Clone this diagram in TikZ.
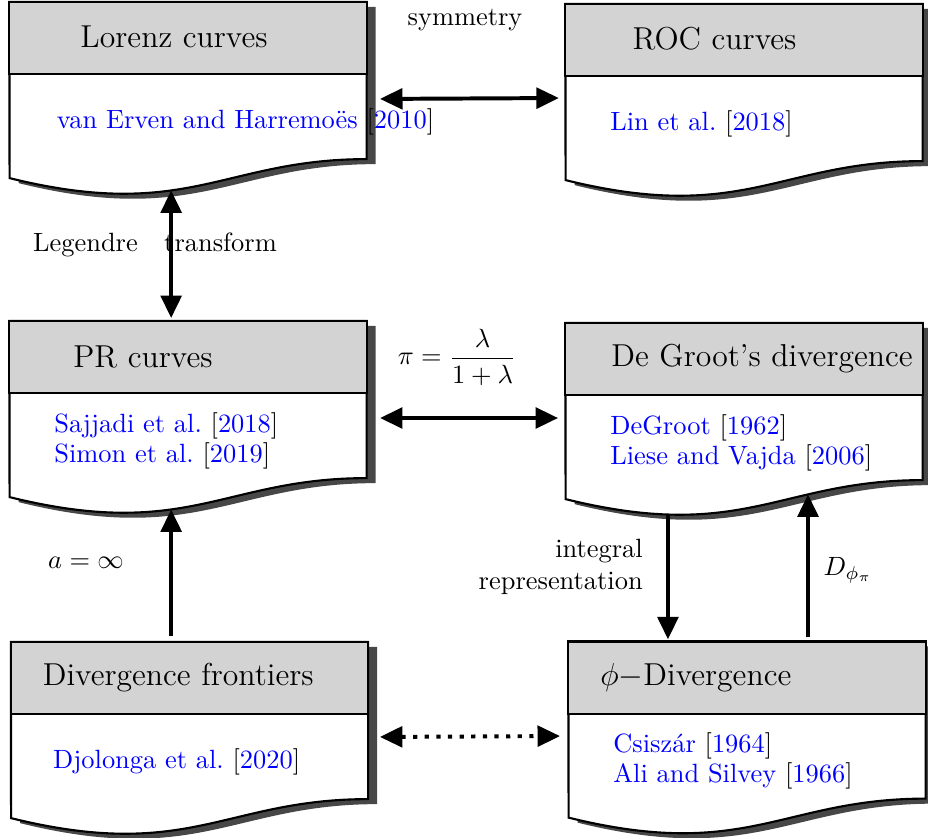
\documentclass[tikz,border=0pt]{standalone}
\usepackage{amsmath}
\usepackage{fontspec}
\usetikzlibrary{positioning,arrows.meta,shadows,backgrounds}
\definecolor{headgray}{RGB}{211,211,211}
\newcommand{\litref}[2]{\textcolor{blue}{#1}\ [\textcolor{blue}{#2}]}

\begin{document}
\begin{tikzpicture}[x=0.01331cm,y=-0.01331cm,
	>={Triangle[length=8.5pt,width=7.8pt]},
	head/.style={draw,thick,fill=headgray,minimum width=135.2pt,minimum height=27.3pt,text width=135.2pt,inner xsep=0pt,outer sep=0pt,align=left,font=\large},
	body/.style={minimum width=135.2pt,minimum height=32.2pt,inner xsep=17pt,text width=101.2pt,outer sep=0pt,align=left,execute at begin node={\rule{0pt}{11.3pt}}},
	docbox/.style={draw,thick,fill=white,drop shadow={shadow xshift=3.4pt,shadow yshift=-1.9pt,fill=black!72,opacity=1}},
	link/.style={line width=1.5pt}]
	\useasboundingbox (0,0) rectangle (928,837);

	\node[head] (lor) at (188,38) {\raisebox{1pt}{\hspace*{26.9pt}Lorenz curves}};
	\node[body,below=0pt of lor] (lorb) {\mbox{\hspace*{1pt}\litref{van Erven and Harremoës}{2010}}};
	\node[head] (roc) at (744,40) {\raisebox{1pt}{\hspace*{25.4pt}ROC curves}};
	\node[body,below=0pt of roc] (rocb) {\litref{Lin et al.}{2018}};
	\node[head] (pr) at (188,357) {\hspace*{24.2pt}PR curves};
	\node[body,below=0pt of pr] (prb) {\litref{Sajjadi et al.}{2018}\\[-0.6pt] \litref{Simon et al.}{2019}};
	\node[head] (dg) at (744,359) {\hspace*{17.4pt}De Groot's divergence};
	\node[body,below=0pt of dg] (dgb) {\litref{DeGroot}{1962}\\[-0.6pt] \litref{Liese and Vajda}{2006}};
	\node[head] (df) at (189.5,678) {\hspace*{12.1pt}Divergence frontiers};
	\node[body,below=0pt of df] (dfb) {\hspace*{-1pt}\litref{Djolonga et al.}{2020}};
	\node[head] (phi) at (747,677.5) {\hspace*{12.1pt}$\phi-$Divergence};
	\node[body,below=0pt of phi] (phib) {\litref{Csiszár}{1964}\\[-0.6pt] \litref{Ali and Silvey}{1966}};

	\begin{scope}[on background layer]
		\path[docbox] (lor.north west) -- (lor.north east) -- (lorb.south east) .. controls +(-143,0) and +(178.5,44) .. ++(-357,19) coordinate[pos=.6] (lorw) -- cycle;
		\path[docbox] (roc.north west) -- (roc.north east) -- (rocb.south east) .. controls +(-143,0) and +(178.5,44) .. ++(-357,19) -- cycle;
		\path[docbox] (pr.north west) -- (pr.north east) -- (prb.south east) .. controls +(-143,0) and +(178.5,44) .. ++(-357,19) coordinate[pos=.6] (prw) -- cycle;
		\path[docbox] (dg.north west) -- (dg.north east) -- (dgb.south east) .. controls +(-143,0) and +(178.5,44) .. ++(-357,19) coordinate[pos=.773] (dgw1) coordinate[pos=.327] (dgw2) -- cycle;
		\path[docbox] (df.north west) -- (df.north east) -- (dfb.south east) .. controls +(-143,0) and +(178.5,44) .. ++(-357,19) -- cycle;
		\path[docbox] (phi.north west) -- (phi.north east) -- (phib.south east) .. controls +(-143,0) and +(178.5,44) .. ++(-357,19) -- cycle;
	\end{scope}

	\node (sym) at (465,20) {symmetry};
	\node (leg) at (155,245) {Legendre\quad transform};
	\node (ainf) at (86,563) {$a=\infty$};
	\node (pilam) at (457,357) {$\pi = \dfrac{\lambda}{1+\lambda}$};
	\node[anchor=east,align=right] (intrep) at (652,567) {integral\\representation};
	\node (dphi) at (848,570) {$D_{\phi_\pi}$};

	\draw[link,<->,shorten <=5.1pt,shorten >=2.5pt] (lorb.east |- 0,99) -- (rocb.west |- 0,98);
	\draw[link,<->,shorten >=1.1pt] (lorw) -- (pr.north -| lorw);
	\draw[link,<->,shorten <=5.1pt,shorten >=2.8pt] (prb.east |- 0,418) -- (dgb.west |- 0,418);
	\draw[link,->,shorten <=2.3pt] (df.north -| prw) -- (prw);
	\draw[link,->,shorten >=0.8pt] (dgw1) -- (phi.north -| dgw1);
	\draw[link,->,shorten <=1.5pt] (phi.north -| dgw2) -- (dgw2);
	\draw[link,<->,dash pattern=on 1.6pt off 2.8pt,shorten <=4.5pt,shorten >=3.2pt] (dfb.east |- 0,737) -- (phib.west |- 0,736);
\end{tikzpicture}
\end{document}
